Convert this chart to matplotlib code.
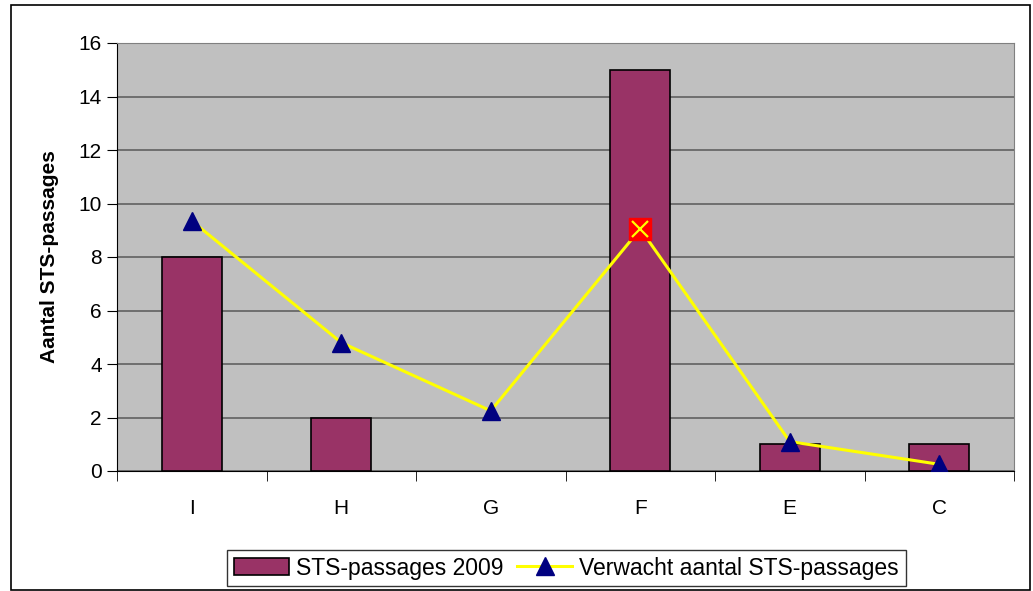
import matplotlib.pyplot as plt
import numpy as np
from matplotlib.patches import Rectangle

plt.rcParams['font.family'] = ['Liberation Sans', 'DejaVu Sans']

categories = ['I', 'H', 'G', 'F', 'E', 'C']
passages_2009 = [8, 2, 0, 15, 1, 1]
verwacht = [9.35, 4.8, 2.25, 9.05, 1.1, 0.25]
y_ticks = [0, 2, 4, 6, 8, 10, 12, 14, 16]

W, H = 1033, 591
fig = plt.figure(figsize=(W / 100, H / 100), dpi=100)
ax = fig.add_axes([117 / W, 1 - 471 / H, (1014 - 117) / W, (471 - 43) / H])
ax.set_facecolor('#c0c0c0')

x = np.arange(len(categories))
# no outline for empty bars
edge_widths = [1.2 if v > 0 else 0 for v in passages_2009]
bars = ax.bar(x, passages_2009, width=0.4, color='#993366', edgecolor='black',
              linewidth=edge_widths, zorder=3, label='STS-passages 2009')
line, = ax.plot(x, verwacht, color='#ffff00', linewidth=2.2, marker='^',
                markersize=13, markerfacecolor='#000080', markeredgecolor='#000080',
                zorder=4, label='Verwacht aantal STS-passages')

# highlighted point at F
fi = categories.index('F')
ax.plot(x[fi], verwacht[fi], marker='s', markersize=16, color='#ff0000',
        linestyle='none', zorder=5)
ax.plot(x[fi], verwacht[fi], marker='x', markersize=12, color='#ffff00',
        markeredgewidth=1.6, linestyle='none', zorder=6)

ax.set_xlim(-0.5, len(categories) - 0.5)
ax.set_ylim(0, 16)
ax.set_yticks(y_ticks)
ax.set_yticklabels([str(t) for t in y_ticks], fontsize=15)
ax.yaxis.grid(True, color='#606060', linewidth=1.2, zorder=0)
ax.set_axisbelow(True)

ax.set_xticks(x)
ax.set_xticklabels(categories, fontsize=15)
ax.set_xticks(np.arange(-0.5, len(categories)), minor=True)
ax.tick_params(axis='x', which='major', length=0, pad=20)
ax.tick_params(axis='x', which='minor', length=7, direction='out', color='black')
ax.tick_params(axis='y', length=7, direction='out', pad=4)

for side in ['top', 'right']:
    ax.spines[side].set_color('#808080')
ax.spines['left'].set_color('black')
ax.spines['bottom'].set_color('black')

ax.set_ylabel('Aantal STS-passages', fontsize=15, fontweight='bold', labelpad=14)

leg = fig.legend([bars, line], ['STS-passages 2009', 'Verwacht aantal STS-passages'],
                 loc='center', bbox_to_anchor=((228 + 905) / 2 / W, 1 - 568 / H),
                 ncol=2, fontsize=16.5, frameon=True, fancybox=False,
                 edgecolor='black', handlelength=2.4, columnspacing=0.6,
                 handletextpad=0.3, borderpad=0.3)
leg.get_frame().set_linewidth(1.0)

fig.patches.append(Rectangle((11 / W, 1 - 590 / H), (1030 - 11) / W, (590 - 5) / H,
                             transform=fig.transFigure, fill=False,
                             edgecolor='black', linewidth=1.2))

fig.savefig('out.png', dpi=100)
